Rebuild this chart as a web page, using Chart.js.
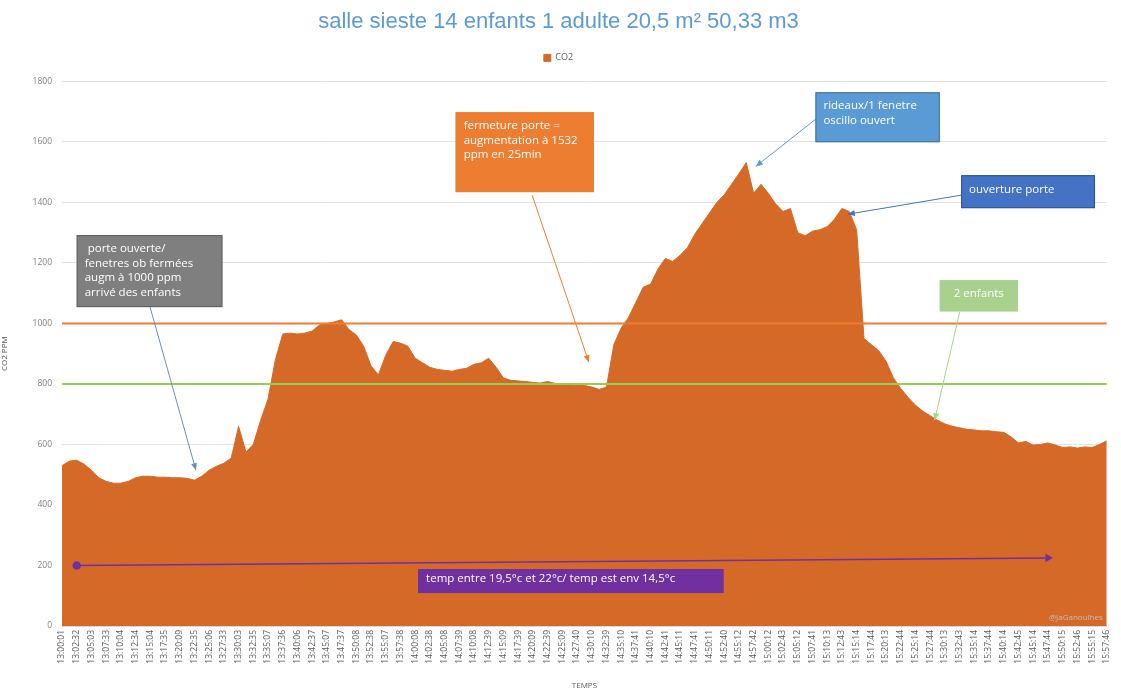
<!DOCTYPE html>
<html>
<head>
<meta charset="utf-8">
<script src="https://cdn.jsdelivr.net/npm/chart.js@4.4.1/dist/chart.umd.min.js"></script>
<style>
  html,body{margin:0;padding:0;background:#fff;}
  #wrap{width:1121px;height:692px;}
</style>
</head>
<body>
<div id="wrap"><canvas id="co2Chart" width="1121" height="692"></canvas></div>
<script>
/* ── DATA ───────────────────────────────────────────────── */
const tickLabels = [
  '13:00:01','13:02:32','13:05:03','13:07:33','13:10:04','13:12:34','13:15:04','13:17:35',
  '13:20:09','13:22:35','13:25:06','13:27:33','13:30:03','13:32:35','13:35:07','13:37:36',
  '13:40:06','13:42:37','13:45:07','13:47:37','13:50:08','13:52:38','13:55:07','13:57:38',
  '14:00:08','14:02:38','14:05:08','14:07:39','14:10:08','14:12:39','14:15:09','14:17:39',
  '14:20:09','14:22:39','14:25:09','14:27:40','14:30:10','14:32:39','14:35:10','14:37:41',
  '14:40:10','14:42:41','14:45:11','14:47:41','14:50:11','14:52:40','14:55:12','14:57:42',
  '15:00:12','15:02:43','15:05:12','15:07:41','15:10:13','15:12:43','15:15:14','15:17:44',
  '15:20:13','15:22:44','15:25:14','15:27:44','15:30:13','15:32:43','15:35:14','15:37:44',
  '15:40:14','15:42:45','15:45:14','15:47:44','15:50:15','15:52:46','15:55:15','15:57:46'
];

// CO2 ppm, two readings per labelled interval
const co2 = [
  530,545,548,535,515,490,478,472,472,478,490,495,495,492,492,490,490,488,482,495,
  515,528,538,555,660,575,600,680,750,880,965,968,965,968,975,995,1000,1005,1012,980,
  962,925,860,830,895,940,935,925,885,870,855,848,845,842,848,852,865,870,885,855,
  820,812,810,808,805,803,808,802,800,798,795,795,790,782,790,930,985,1020,1070,1120,
  1130,1180,1215,1205,1225,1250,1295,1330,1365,1400,1425,1460,1495,1532,1430,1460,1430,1395,1370,1380,
  1300,1290,1305,1310,1320,1345,1380,1370,1310,950,930,910,875,820,785,755,730,710,695,680,
  668,660,655,650,648,645,645,642,640,625,605,610,598,600,605,598,590,592,588,592,
  590,600,612
];

const seuilHaut = 1000;
const seuilBas  = 800;
const tempIdx   = [2, 134];
const tempVals  = [200, 225];

const yTicks = [0,200,400,600,800,1000,1200,1400,1600,1800];

/* ── ANNOTATIONS (data units: x = sample index, y = ppm) ── */
const notes = [
  { box:[2,21.8,1292,1054], fill:'#7f7f7f', stroke:'#5f5f5f', color:'#fff',
    lines:[' porte ouverte/','fenetres ob fermées','augm à 1000 ppm','arrivé des enfants'],
    from:[11.9,1060], to:[18.2,515], arrow:'#6f8fae' },
  { box:[53.5,72.3,1698,1434], fill:'#ed7d31', stroke:'#ed7d31', color:'#fff',
    lines:['fermeture porte =','augmentation à 1532','ppm en 25min'],
    from:[63.9,1424], to:[71.6,872], arrow:'#ed7d31' },
  { box:[102.4,119.3,1764,1599], fill:'#5b9bd5', stroke:'#41719c', color:'#fff',
    lines:['rideaux/1 fenetre','oscillo ouvert'],
    from:[103.1,1688], to:[94.3,1519], arrow:'#5b9bd5' },
  { box:[122.2,140.4,1490,1381], fill:'#4472c4', stroke:'#2f528f', color:'#fff',
    lines:['ouverture porte'],
    from:[122.2,1424], to:[106.8,1361], arrow:'#4472c4' },
  { box:[119.3,129.9,1143,1040], fill:'#a9d18e', stroke:'#a9d18e', color:'#fff', center:true,
    lines:['2 enfants'],
    from:[122,1037], to:[118.6,680], arrow:'#a9d18e' },
  { box:[48.4,89.9,188,109], fill:'#7030a0', stroke:'#7030a0', color:'#fff',
    lines:['temp entre 19,5°c et 22°c/ temp est env 14,5°c'] }
];

/* ── LABELS: every second reading carries a tick label ──── */
const labels = [];
tickLabels.forEach((t,k)=>{ labels.push(t); if(k<tickLabels.length-1) labels.push(''); });
const lastIdx = labels.length-1;

/* ── PLUGINS ─────────────────────────────────────────────── */
const legendGap = {
  id:'legendGap',
  beforeInit(chart){
    const fit = chart.legend.fit;
    chart.legend.fit = function(){ fit.bind(chart.legend)(); this.height += 9; };
  }
};

const notesPlugin = {
  id:'notes',
  afterDatasetsDraw(chart){
    const {ctx, scales:{x,y}} = chart;
    ctx.save();
    notes.forEach(n=>{
      if(n.from){
        const fx=x.getPixelForValue(n.from[0]), fy=y.getPixelForValue(n.from[1]);
        const tx=x.getPixelForValue(n.to[0]),   ty=y.getPixelForValue(n.to[1]);
        ctx.strokeStyle=n.arrow; ctx.lineWidth=1;
        ctx.beginPath(); ctx.moveTo(fx,fy); ctx.lineTo(tx,ty); ctx.stroke();
        const a=Math.atan2(ty-fy,tx-fx);
        ctx.beginPath();
        ctx.moveTo(tx,ty);
        ctx.lineTo(tx-7*Math.cos(a)+3*Math.sin(a), ty-7*Math.sin(a)-3*Math.cos(a));
        ctx.lineTo(tx-7*Math.cos(a)-3*Math.sin(a), ty-7*Math.sin(a)+3*Math.cos(a));
        ctx.closePath(); ctx.fillStyle=n.arrow; ctx.fill();
      }
      const x1=x.getPixelForValue(n.box[0]), x2=x.getPixelForValue(n.box[1]);
      const y1=y.getPixelForValue(n.box[2]), y2=y.getPixelForValue(n.box[3]);
      ctx.fillStyle=n.fill; ctx.fillRect(x1,y1,x2-x1,y2-y1);
      ctx.strokeStyle=n.stroke; ctx.lineWidth=1; ctx.strokeRect(x1+.5,y1+.5,x2-x1-1,y2-y1-1);
      ctx.fillStyle=n.color; ctx.font='11.5px "Open Sans"'; ctx.textBaseline='top';
      ctx.textAlign=n.center?'center':'left';
      const tx=n.center?(x1+x2)/2:x1+8;
      const lh=14.5;
      const ty=n.lines.length===1 ? (y1+y2)/2-8 : y1+8;
      n.lines.forEach((l,i)=>ctx.fillText(l,tx,ty+i*lh));
    });
    ctx.font='8px "Open Sans"'; ctx.fillStyle='#bfbfbf'; ctx.textAlign='right'; ctx.textBaseline='middle';
    ctx.fillText('@JaGanoulhes', chart.chartArea.right-4, chart.chartArea.bottom-8);
    ctx.restore();
  }
};

/* ── CHART ───────────────────────────────────────────────── */
new Chart(document.getElementById('co2Chart'), {
  type:'line',
  data:{
    labels,
    datasets:[
      { label:'CO2', data:co2, order:3, fill:'origin', backgroundColor:'#d56a28', borderColor:'#d56a28',
        borderWidth:1, pointRadius:0, tension:0 },
      { label:'haut', xAxisID:'xi', data:[{x:0,y:seuilHaut},{x:lastIdx,y:seuilHaut}], order:1,
        borderColor:'#f07a33', borderWidth:2, pointRadius:0, fill:false },
      { label:'bas', xAxisID:'xi', data:[{x:0,y:seuilBas},{x:lastIdx,y:seuilBas}], order:1,
        borderColor:'#92d050', borderWidth:2, pointRadius:0, fill:false },
      { label:'temp', xAxisID:'xi', data:tempIdx.map((i,k)=>({x:i,y:tempVals[k]})), order:1,
        borderColor:'#7030a0', borderWidth:1.5, fill:false,
        pointRadius:3.5, pointStyle:['circle','triangle'], pointRotation:[0,90],
        pointBackgroundColor:'#7030a0', pointBorderColor:'#7030a0' }
    ]
  },
  options:{
    responsive:false, animation:false,
    layout:{padding:{left:0,right:4,top:0,bottom:0}},
    plugins:{
      title:{display:true, text:'salle sieste 14 enfants 1 adulte 20,5 m² 50,33 m3',
        color:'#5b9bd5', font:{family:'"Liberation Sans"', size:22, weight:'normal'}, padding:{top:9,bottom:10}},
      legend:{display:true, position:'top',
        labels:{filter:item=>item.text==='CO2', boxWidth:7, boxHeight:7, padding:8,
          color:'#595959', font:{family:'"Open Sans"', size:9}}},
      tooltip:{enabled:false}
    },
    scales:{
      x:{
        grid:{display:false, drawTicks:false},
        border:{color:'#d9d9d9'},
        ticks:{autoSkip:false, minRotation:90, maxRotation:90, padding:4,
          color:'#595959', font:{family:'"Open Sans"', size:8.5}},
        title:{display:true, text:'TEMPS', color:'#595959', font:{family:'"Open Sans"', size:8}, padding:{top:0,bottom:1}},
        afterFit:s=>{ s.height = 66; }
      },
      xi:{ type:'linear', display:false, min:0, max:lastIdx },
      y:{
        min:0, max:1800,
        afterBuildTicks:s=>{ s.ticks = yTicks.map(v=>({value:v})); },
        grid:{color:'#e3e3e3', drawTicks:false},
        border:{display:false},
        ticks:{padding:10, color:'#7f7f7f', font:{family:'"Open Sans"', size:8.5}, callback:v=>String(v)},
        title:{display:true, text:'CO2 PPM', color:'#595959', font:{family:'"Open Sans"', size:8}, padding:{top:0,bottom:4}},
        afterFit:s=>{ s.width = 62; }
      }
    }
  },
  plugins:[legendGap, notesPlugin]
});
</script>
</body>
</html>
